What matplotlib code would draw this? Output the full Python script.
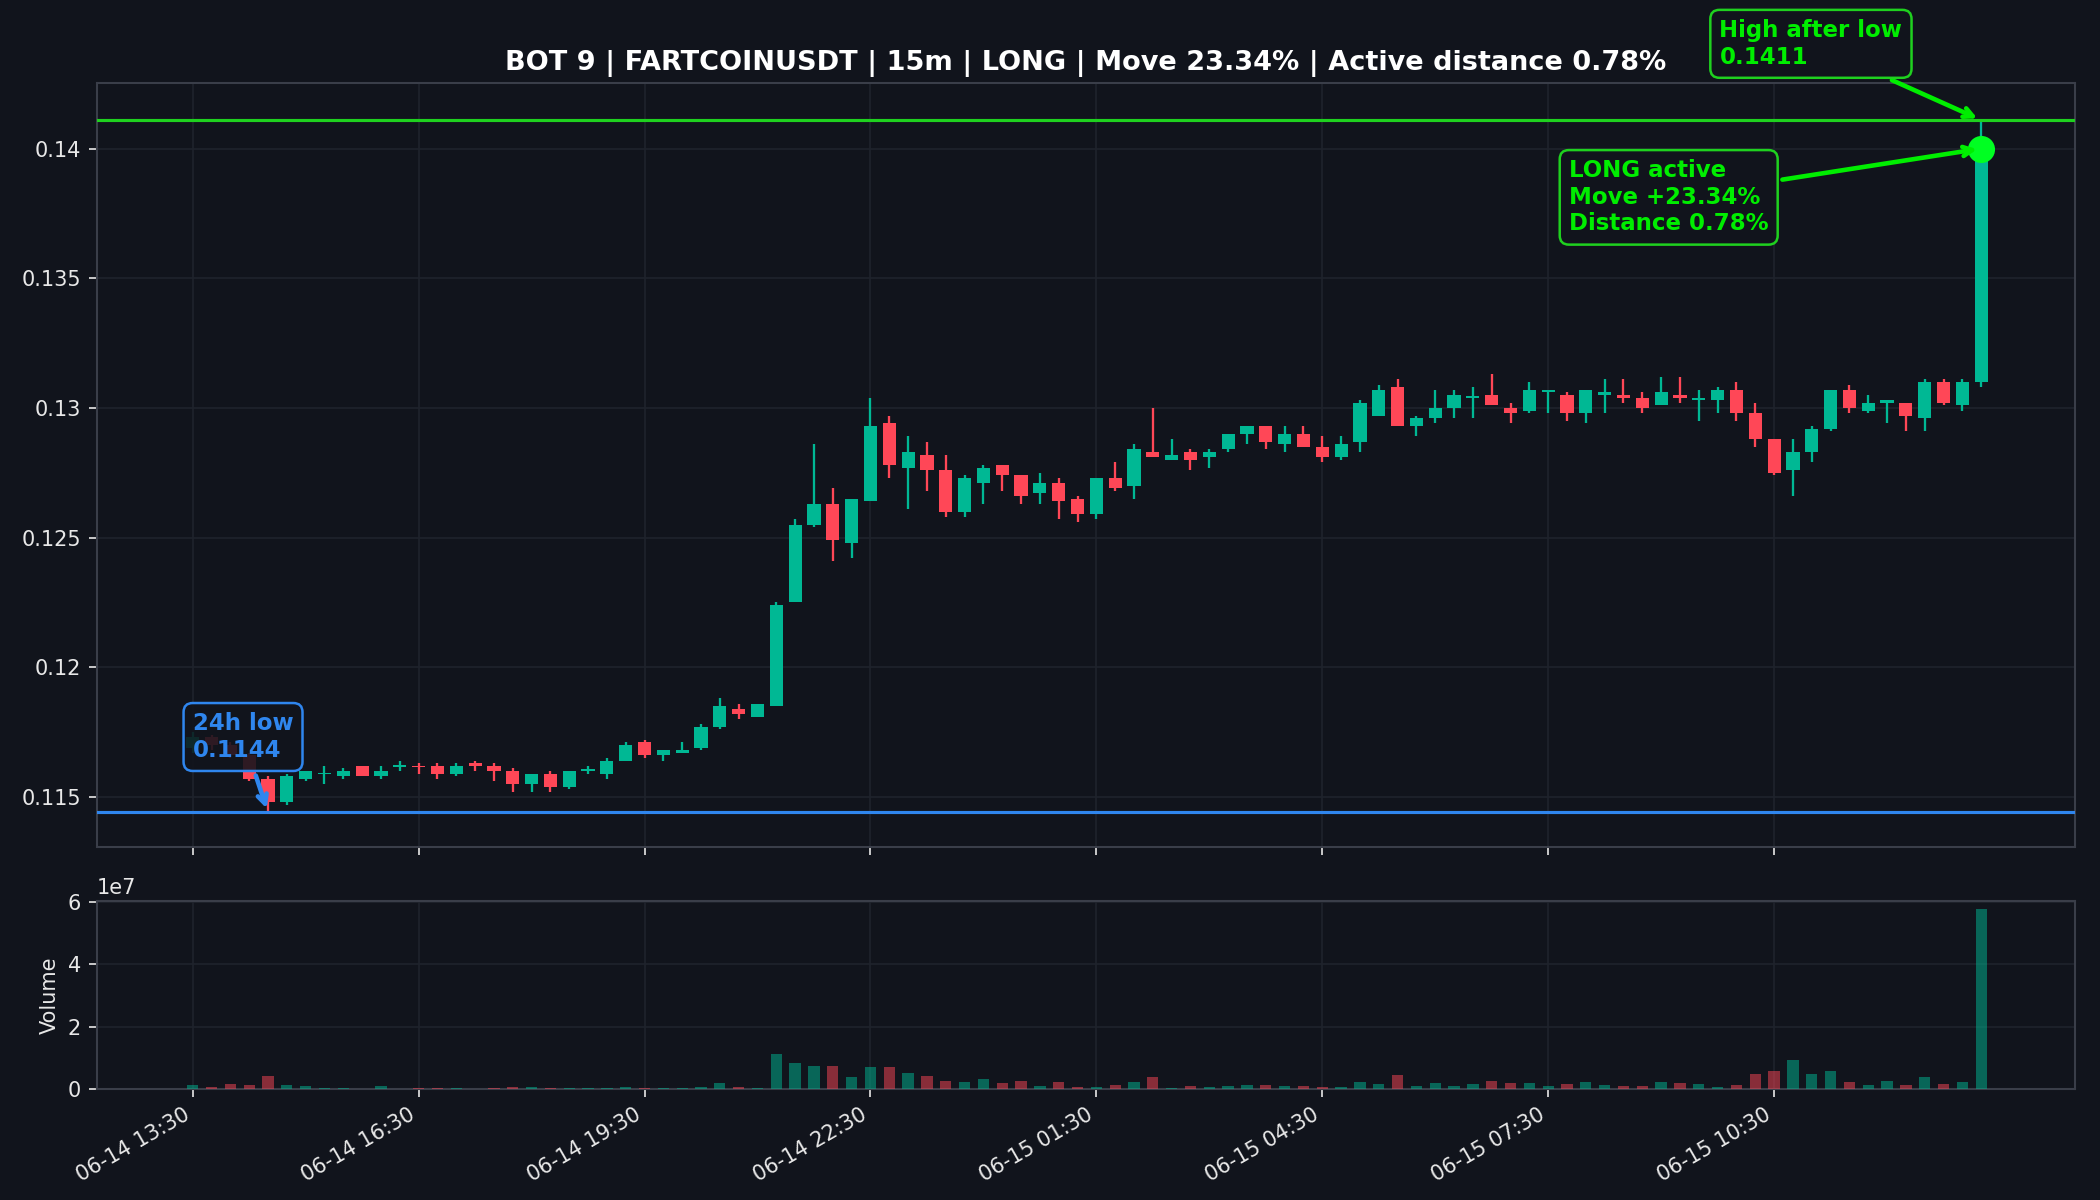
import matplotlib
matplotlib.use('Agg')
import matplotlib.pyplot as plt
import matplotlib.dates as mdates
from matplotlib.ticker import FixedLocator, FuncFormatter
import pandas as pd

# ---------------- data ----------------
start_time = '2025-06-14 13:30'
interval = '15min'

opens = [0.1169, 0.1173, 0.1170, 0.1166, 0.1157, 0.1148, 0.1157, 0.11588, 0.1158, 0.1162,
         0.1158, 0.11617, 0.11620, 0.1162, 0.1159, 0.1163, 0.1162, 0.1160, 0.1155, 0.1159,
         0.1154, 0.1160, 0.1159, 0.1164, 0.1171, 0.1166, 0.1167, 0.1169, 0.1177, 0.1184,
         0.1181, 0.1185, 0.1225, 0.1255, 0.1263, 0.1248, 0.1264, 0.1294, 0.1277, 0.1282,
         0.1276, 0.1260, 0.1271, 0.1278, 0.1274, 0.1267, 0.1271, 0.1265, 0.1259, 0.1273,
         0.1270, 0.1283, 0.1280, 0.1283, 0.1281, 0.1284, 0.1290, 0.1293, 0.1286, 0.1290,
         0.1285, 0.1281, 0.1287, 0.1297, 0.1308, 0.1293, 0.1296, 0.1300, 0.1304, 0.1305,
         0.1300, 0.1299, 0.1306, 0.1305, 0.1298, 0.1305, 0.1305, 0.1304, 0.1301, 0.1305,
         0.1303, 0.1303, 0.1307, 0.1298, 0.1288, 0.1276, 0.1283, 0.1292, 0.1307, 0.1299,
         0.1302, 0.1302, 0.1296, 0.1310, 0.1301, 0.1310]
highs = [0.1175, 0.1174, 0.1171, 0.1167, 0.1158, 0.1159, 0.1160, 0.1162, 0.1161, 0.1162,
         0.1162, 0.1164, 0.1163, 0.1163, 0.1163, 0.1164, 0.1163, 0.1161, 0.1159, 0.1160,
         0.1160, 0.1162, 0.1165, 0.1171, 0.1172, 0.1168, 0.1171, 0.1178, 0.1188, 0.1186,
         0.1186, 0.1225, 0.1257, 0.1286, 0.1269, 0.1265, 0.1304, 0.1297, 0.1289, 0.1287,
         0.1282, 0.1274, 0.1278, 0.1278, 0.1274, 0.1275, 0.1273, 0.1266, 0.1273, 0.1279,
         0.1286, 0.1300, 0.1288, 0.1284, 0.1284, 0.1290, 0.1293, 0.1293, 0.1293, 0.1293,
         0.1289, 0.1289, 0.1303, 0.1309, 0.1311, 0.1297, 0.1307, 0.1307, 0.1308, 0.1313,
         0.1302, 0.1310, 0.1307, 0.1306, 0.1307, 0.1311, 0.1311, 0.1306, 0.1312, 0.1312,
         0.1307, 0.1308, 0.1310, 0.1302, 0.1288, 0.1288, 0.1293, 0.1307, 0.1309, 0.1305,
         0.1303, 0.1302, 0.1311, 0.1311, 0.1311, 0.1411]
lows = [0.1167, 0.1168, 0.1165, 0.1156, 0.1144, 0.1147, 0.1156, 0.1155, 0.1157, 0.1158,
        0.1157, 0.1160, 0.1159, 0.1157, 0.1158, 0.1160, 0.1156, 0.1152, 0.1152, 0.1152,
        0.1153, 0.1159, 0.1157, 0.1164, 0.1165, 0.1164, 0.1167, 0.1168, 0.1176, 0.1180,
        0.1181, 0.1185, 0.1225, 0.1254, 0.1241, 0.1242, 0.1264, 0.1273, 0.1261, 0.1268,
        0.1258, 0.1258, 0.1263, 0.1268, 0.1263, 0.1263, 0.1257, 0.1256, 0.1257, 0.1268,
        0.1265, 0.1281, 0.1280, 0.1276, 0.1277, 0.1283, 0.1286, 0.1284, 0.1283, 0.1285,
        0.1279, 0.1280, 0.1283, 0.1297, 0.1293, 0.1289, 0.1294, 0.1296, 0.1296, 0.1301,
        0.1294, 0.1298, 0.1298, 0.1295, 0.1294, 0.1298, 0.1302, 0.1298, 0.1301, 0.1302,
        0.1295, 0.1298, 0.1295, 0.1285, 0.1274, 0.1266, 0.1279, 0.1291, 0.1298, 0.1298,
        0.1294, 0.1291, 0.1291, 0.1301, 0.1299, 0.1308]
closes = [0.1173, 0.1170, 0.1166, 0.1157, 0.1148, 0.1158, 0.1160, 0.11593, 0.1160, 0.1158,
          0.1160, 0.11622, 0.11614, 0.1159, 0.1162, 0.1162, 0.1160, 0.1155, 0.1159, 0.1154,
          0.1160, 0.11605, 0.1164, 0.1170, 0.1166, 0.1168, 0.1168, 0.1177, 0.1185, 0.1182,
          0.1186, 0.1224, 0.1255, 0.1263, 0.1249, 0.1265, 0.1293, 0.1278, 0.1283, 0.1276,
          0.1260, 0.1273, 0.1277, 0.1274, 0.1266, 0.1271, 0.1264, 0.1259, 0.1273, 0.1269,
          0.1284, 0.1281, 0.1282, 0.1280, 0.1283, 0.1290, 0.1293, 0.1287, 0.1290, 0.1285,
          0.1281, 0.1286, 0.1302, 0.1307, 0.1293, 0.1296, 0.1300, 0.1305, 0.13045, 0.1301,
          0.1298, 0.1307, 0.1307, 0.1298, 0.1307, 0.1306, 0.1304, 0.1300, 0.1306, 0.1304,
          0.13037, 0.1307, 0.1298, 0.1288, 0.1275, 0.1283, 0.1292, 0.1307, 0.1300, 0.1302,
          0.1303, 0.1297, 0.1310, 0.1302, 0.1310, 0.1400]
volumes = [0.14, 0.075, 0.17, 0.14, 0.43, 0.14, 0.11, 0.04, 0.04, 0.01,
           0.11, 0.01, 0.04, 0.04, 0.04, 0.01, 0.04, 0.085, 0.085, 0.04,
           0.04, 0.04, 0.04, 0.075, 0.04, 0.04, 0.04, 0.075, 0.21, 0.075,
           0.04, 1.14, 0.85, 0.75, 0.75, 0.39, 0.71, 0.71, 0.53, 0.43,
           0.27, 0.23, 0.33, 0.20, 0.27, 0.11, 0.245, 0.085, 0.075, 0.14,
           0.23, 0.39, 0.04, 0.11, 0.075, 0.11, 0.14, 0.14, 0.11, 0.11,
           0.075, 0.075, 0.23, 0.17, 0.46, 0.11, 0.20, 0.11, 0.17, 0.27,
           0.20, 0.20, 0.11, 0.17, 0.23, 0.14, 0.11, 0.11, 0.23, 0.20,
           0.17, 0.075, 0.14, 0.49, 0.59, 0.94, 0.49, 0.59, 0.23, 0.14,
           0.27, 0.14, 0.39, 0.17, 0.23, 5.77]
volume_scale = 1e7

low_24h = 0.1144
low_index = 4
high_after_low = 0.1411
active_price = 0.1400
move_pct = 23.34
distance_pct = 0.78

title = 'BOT 9 | FARTCOINUSDT | 15m | LONG | Move 23.34% | Active distance 0.78%'
low_label = '24h low\n0.1144'
high_label = 'High after low\n0.1411'
active_label = 'LONG active\nMove +23.34%\nDistance 0.78%'

# ---------------- style ----------------
BG = '#11141c'
UP = '#00b894'
DOWN = '#ff4757'
GREEN_TXT = '#00ee00'
GREEN_LINE = '#1fd11f'
BLUE = '#2f86ee'
GRID = '#1f232c'
SPINE = '#3a3e49'
TXT = '#e8e8e8'

times = pd.date_range(start_time, periods=len(opens), freq=interval)
x = mdates.date2num(times.to_pydatetime())
step = x[1] - x[0]

fig = plt.figure(figsize=(14, 8), dpi=150)
fig.patch.set_facecolor(BG)
ax = fig.add_axes([0.04605, 0.29442, 0.94219, 0.63642])
axv = fig.add_axes([0.04605, 0.09225, 0.94219, 0.15717], sharex=ax)

for a in (ax, axv):
    a.set_facecolor(BG)
    for s in a.spines.values():
        s.set_color(SPINE)
        s.set_linewidth(1.0)
    a.tick_params(colors=TXT, labelsize=10, length=4)
    a.grid(True, color=GRID, lw=0.8)
    a.set_axisbelow(True)

cols = [UP if c >= o else DOWN for o, c in zip(opens, closes)]
bottoms = [min(o, c) for o, c in zip(opens, closes)]
heights = [max(abs(c - o), 0.00006) for o, c in zip(opens, closes)]

ax.vlines(x, lows, highs, colors=cols, lw=1.1, zorder=2)
ax.bar(x, heights, width=0.7 * step, bottom=bottoms, color=cols, zorder=3, lw=0)

ax.axhline(high_after_low, color=GREEN_LINE, lw=1.5, zorder=4)
ax.axhline(low_24h, color=BLUE, lw=1.5, zorder=4)
ax.plot([x[-1]], [active_price], 'o', ms=12, color='#00ff22', zorder=6)

ax.set_xlim(x[0] - 5.1 * step, x[0] + 100.0 * step)
ax.set_ylim(0.11308, 0.14253)
ax.yaxis.set_major_formatter(FuncFormatter(lambda v, p: f'{v:g}'))

box_fc = (17/255, 20/255, 28/255, 0.88)
ax.annotate(low_label, xy=(x[low_index], low_24h), xytext=(x[0], 0.11731),
            ha='left', va='center', color=BLUE, fontsize=11, fontweight='bold',
            bbox=dict(boxstyle='round,pad=0.4', fc=box_fc, ec=BLUE, lw=1.2),
            arrowprops=dict(arrowstyle='->', color=BLUE, lw=2.2), zorder=7)
ax.annotate(high_label, xy=(x[-1], high_after_low), xytext=(x[0] + 81.1 * step, 0.14404),
            ha='left', va='center', color=GREEN_TXT, fontsize=11, fontweight='bold',
            bbox=dict(boxstyle='round,pad=0.4', fc=box_fc, ec=GREEN_LINE, lw=1.2),
            arrowprops=dict(arrowstyle='->', color=GREEN_TXT, lw=2.2),
            annotation_clip=False, zorder=7)
ax.annotate(active_label, xy=(x[-1], active_price), xytext=(x[0] + 73.1 * step, 0.13812),
            ha='left', va='center', color=GREEN_TXT, fontsize=11, fontweight='bold',
            bbox=dict(boxstyle='round,pad=0.4', fc=box_fc, ec=GREEN_LINE, lw=1.2),
            arrowprops=dict(arrowstyle='->', color=GREEN_TXT, lw=2.2), zorder=7)

ax.set_title(title, color='white', fontsize=13, fontweight='bold')
ax.tick_params(labelbottom=False)

vcols = [UP if c >= o else DOWN for o, c in zip(opens, closes)]
vols = [v * volume_scale for v in volumes]
axv.bar(x, vols, width=0.6 * step, color=vcols, alpha=0.5, lw=0, zorder=3)
axv.set_ylim(0, max(vols) * 1.045)
axv.set_yticks([0, 2e7, 4e7, 6e7])
axv.yaxis.get_offset_text().set_color(TXT)
axv.yaxis.get_offset_text().set_fontsize(10)
axv.set_ylabel('Volume', color=TXT, fontsize=10)

axv.xaxis.set_major_locator(FixedLocator(x[::12]))
axv.xaxis.set_major_formatter(mdates.DateFormatter('%m-%d %H:%M'))
plt.setp(axv.get_xticklabels(), rotation=30, ha='right')

fig.savefig('out.png', dpi=150, facecolor=BG)
